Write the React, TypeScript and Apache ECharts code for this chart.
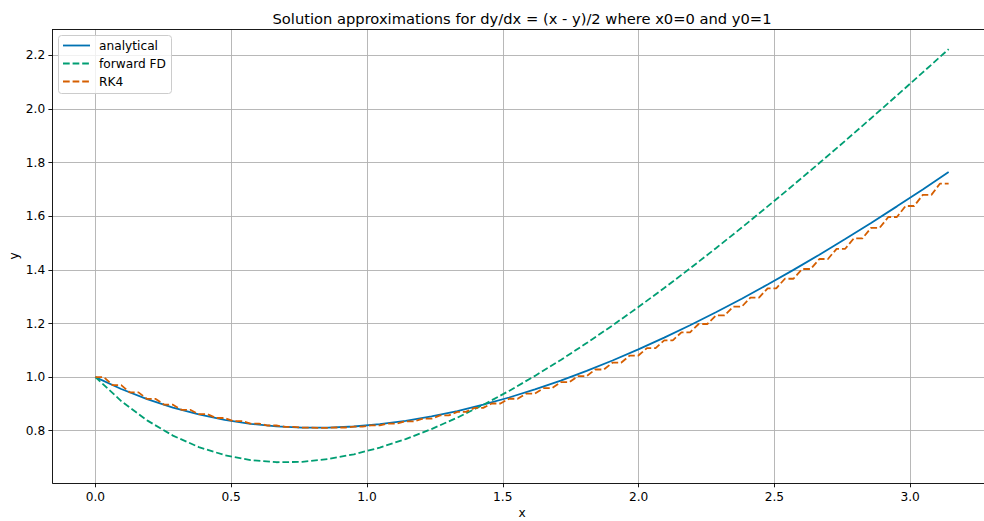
import React, { useEffect, useRef } from "react";
import * as echarts from "echarts";

// x grid (100 points from 0 to pi)
const gridX = [
  0.0, 0.0317, 0.0635, 0.0952, 0.1269, 0.1587, 0.1904, 0.2221, 0.2539, 0.2856,
  0.3173, 0.3491, 0.3808, 0.4125, 0.4443, 0.476, 0.5077, 0.5395, 0.5712, 0.6029,
  0.6347, 0.6664, 0.6981, 0.7299, 0.7616, 0.7933, 0.8251, 0.8568, 0.8885, 0.9203,
  0.952, 0.9837, 1.0155, 1.0472, 1.0789, 1.1107, 1.1424, 1.1741, 1.2059, 1.2376,
  1.2693, 1.3011, 1.3328, 1.3645, 1.3963, 1.428, 1.4597, 1.4915, 1.5232, 1.5549,
  1.5867, 1.6184, 1.6501, 1.6819, 1.7136, 1.7453, 1.7771, 1.8088, 1.8405, 1.8723,
  1.904, 1.9357, 1.9675, 1.9992, 2.0309, 2.0627, 2.0944, 2.1261, 2.1579, 2.1896,
  2.2213, 2.2531, 2.2848, 2.3165, 2.3483, 2.38, 2.4117, 2.4435, 2.4752, 2.5069,
  2.5387, 2.5704, 2.6021, 2.6339, 2.6656, 2.6973, 2.7291, 2.7608, 2.7925, 2.8243,
  2.856, 2.8877, 2.9195, 2.9512, 2.9829, 3.0147, 3.0464, 3.0781, 3.1099, 3.1416,
];

// analytical and forward FD values at every third grid point
const analyticalY = [
  1.0, 0.9557, 0.918, 0.8864, 0.8607, 0.8406, 0.8259, 0.8163, 0.8115, 0.8115,
  0.8158, 0.8243, 0.8369, 0.8534, 0.8735, 0.897, 0.924, 0.954, 0.9872, 1.0232,
  1.0619, 1.1033, 1.1472, 1.1934, 1.242, 1.2927, 1.3454, 1.4002, 1.4568, 1.5152,
  1.5754, 1.6371, 1.7004, 1.7652,
];

const forwardFdY = [
  1.0, 0.9108, 0.8386, 0.7818, 0.739, 0.709, 0.6905, 0.6825, 0.684, 0.6941,
  0.7121, 0.7372, 0.7688, 0.8062, 0.849, 0.8966, 0.9486, 1.0046, 1.0641, 1.127,
  1.1929, 1.2614, 1.3325, 1.4057, 1.481, 1.5581, 1.6369, 1.7172, 1.7988, 1.8817,
  1.9658, 2.0509, 2.1369, 2.2237,
];

// RK4 levels: each value is held over two consecutive grid points
const rk4Levels = [
  1.0, 0.97, 0.943, 0.9187, 0.8971, 0.8781, 0.8616, 0.8476, 0.836, 0.8266,
  0.8195, 0.8146, 0.8118, 0.8109, 0.8121, 0.8152, 0.8201, 0.8268, 0.8352, 0.8453,
  0.8571, 0.8704, 0.8853, 0.9016, 0.9194, 0.9386, 0.9591, 0.981, 1.0041, 1.0284,
  1.0539, 1.0806, 1.1084, 1.1373, 1.1672, 1.1982, 1.2301, 1.263, 1.2968, 1.3315,
  1.3671, 1.4035, 1.4408, 1.4788, 1.5176, 1.5571, 1.5974, 1.6384, 1.68, 1.7223,
];

const seriesNames = ["analytical", "forward FD", "RK4"];
const seriesColors = ["#0072B2", "#009E73", "#D55E00"];
const xTicks = [0.0, 0.5, 1.0, 1.5, 2.0, 2.5, 3.0];
const yTicks = [0.8, 1.0, 1.2, 1.4, 1.6, 1.8, 2.0, 2.2];
const titleText = "Solution approximations for dy/dx = (x - y)/2 where x0=0 and y0=1";

const FONT = "DejaVu Sans";
const DASH = [6.7, 2.9];
const LW = 1.8;
const FS = 12.2;
const TITLE_FS = 14.7;

export default function App() {
  const ref = useRef<HTMLDivElement>(null);

  useEffect(() => {
    if (!ref.current) return;
    const chart = echarts.init(ref.current, null, { renderer: "svg" });

    const coarseX = gridX.filter((_, i) => i % 3 === 0);
    const analyticalData = coarseX.map((x, i) => [x, analyticalY[i]]);
    const fdData = coarseX.map((x, i) => [x, forwardFdY[i]]);
    const rk4Data: number[][] = [];
    rk4Levels.forEach((v, j) => {
      rk4Data.push([gridX[2 * j], v]);
      rk4Data.push([gridX[2 * j + 1], v]);
    });

    const gridLeft = 52.7;
    const gridTop = 29.5;
    const gridW = 938.6;
    const gridH = 453.5;

    const legendX = 58.5;
    const legendY = 35.5;
    const legendRows = [45.5, 63.5, 81.5];

    const legendGraphics: any[] = [
      {
        type: "rect",
        shape: { x: legendX, y: legendY, width: 113, height: 58, r: 3 },
        style: { fill: "rgba(255,255,255,0.8)", stroke: "#cccccc", lineWidth: 1 },
        z: 100,
      },
    ];
    seriesNames.forEach((name, i) => {
      legendGraphics.push({
        type: "line",
        shape: { x1: 63, y1: legendRows[i], x2: 90, y2: legendRows[i] },
        style: {
          stroke: seriesColors[i],
          lineWidth: LW,
          lineDash: i === 0 ? null : DASH,
        },
        z: 101,
      });
      legendGraphics.push({
        type: "text",
        x: 99,
        y: legendRows[i],
        style: {
          text: name,
          fill: "#000",
          font: `${FS}px "${FONT}"`,
          verticalAlign: "middle",
          align: "left",
        },
        z: 101,
      });
    });

    const option: any = {
      animation: false,
      backgroundColor: "#ffffff",
      grid: {
        left: gridLeft,
        top: gridTop,
        width: gridW,
        height: gridH,
        containLabel: false,
        outerBoundsMode: "none",
      },
      xAxis: [
        {
          type: "value",
          min: -0.15708,
          max: 3.29867,
          axisLine: { show: true, onZero: false, lineStyle: { color: "#000", width: 0.9 } },
          axisTick: {
            show: true,
            length: 4.3,
            customValues: xTicks,
            lineStyle: { color: "#000", width: 0.9 },
          },
          axisLabel: {
            customValues: xTicks,
            formatter: (v: number) => v.toFixed(1),
            color: "#000",
            fontFamily: FONT,
            fontSize: FS,
            margin: 8,
          },
          splitLine: { show: true, lineStyle: { color: "#b0b0b0", width: 0.9 } },
        },
        {
          type: "value",
          position: "top",
          min: -0.15708,
          max: 3.29867,
          axisLine: { show: true, onZero: false, lineStyle: { color: "#000", width: 0.9 } },
          axisTick: { show: false },
          axisLabel: { show: false },
          splitLine: { show: false },
        },
      ],
      yAxis: {
        type: "value",
        min: 0.605,
        max: 2.297,
        axisLine: { show: true, onZero: false, lineStyle: { color: "#000", width: 0.9 } },
        axisTick: {
          show: true,
          length: 4.3,
          customValues: yTicks,
          lineStyle: { color: "#000", width: 0.9 },
        },
        axisLabel: {
          customValues: yTicks,
          formatter: (v: number) => v.toFixed(1),
          color: "#000",
          fontFamily: FONT,
          fontSize: FS,
          margin: 7.5,
        },
        splitLine: { show: true, lineStyle: { color: "#b0b0b0", width: 0.9 } },
      },
      series: [
        {
          name: seriesNames[0],
          type: "line",
          data: analyticalData,
          showSymbol: false,
          symbol: "none",
          lineStyle: { color: seriesColors[0], width: LW, type: "solid" },
          z: 3,
        },
        {
          name: seriesNames[1],
          type: "line",
          data: fdData,
          showSymbol: false,
          symbol: "none",
          lineStyle: { color: seriesColors[1], width: LW, type: DASH },
          z: 4,
        },
        {
          name: seriesNames[2],
          type: "line",
          data: rk4Data,
          showSymbol: false,
          symbol: "none",
          lineStyle: { color: seriesColors[2], width: LW, type: DASH },
          z: 5,
        },
      ],
      graphic: [
        {
          type: "text",
          x: 522,
          y: 18,
          style: {
            text: titleText,
            fill: "#000",
            font: `${TITLE_FS}px "${FONT}"`,
            align: "center",
            verticalAlign: "middle",
          },
        },
        {
          type: "text",
          x: 522,
          y: 513,
          style: {
            text: "x",
            fill: "#000",
            font: `${FS}px "${FONT}"`,
            align: "center",
            verticalAlign: "middle",
          },
        },
        {
          type: "text",
          x: 14,
          y: 256,
          rotation: Math.PI / 2,
          style: {
            text: "y",
            fill: "#000",
            font: `${FS}px "${FONT}"`,
            align: "center",
            verticalAlign: "middle",
          },
        },
        ...legendGraphics,
      ],
    };

    chart.setOption(option);
    return () => chart.dispose();
  }, []);

  return (
    <div
      ref={ref}
      style={{ position: "absolute", left: 0, top: 0, width: 984, height: 521, background: "#fff" }}
    />
  );
}
